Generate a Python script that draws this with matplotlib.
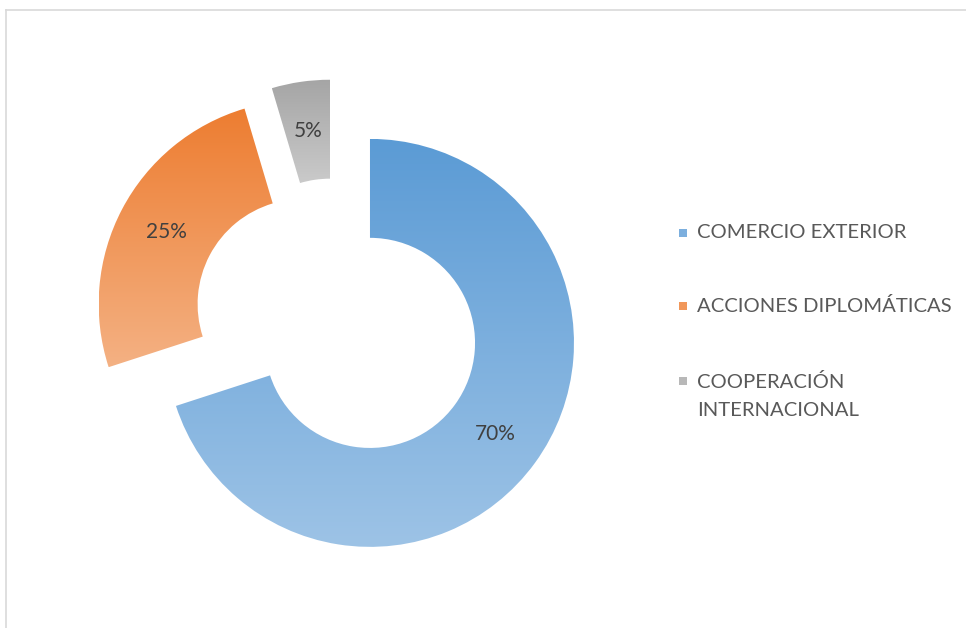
import numpy as np
import matplotlib
matplotlib.use('Agg')
import matplotlib.pyplot as plt
from matplotlib.colors import LinearSegmentedColormap, to_rgb
from matplotlib.lines import Line2D
from matplotlib.patches import Rectangle

categories = ['COMERCIO EXTERIOR', 'ACCIONES DIPLOMÁTICAS', 'COOPERACIÓN\nINTERNACIONAL']
values = [70, 25.4, 4.6]
top_colors = ['#5B9BD5', '#ED7D31', '#A5A5A5']
bottom_colors = ['#9DC3E6', '#F4B183', '#CACACA']
# where the exploded slices sit (radius units)
offsets = [(0, 0), (-0.33, 0.19), (-0.196, 0.29)]

plt.rcParams['font.family'] = ['Lato', 'DejaVu Sans']

W, H = 966, 628
fig = plt.figure(figsize=(W / 100, H / 100), dpi=100)
ax = fig.add_axes([0.0768, -0.017, 0.6124, 0.942])

wedges, texts, pcts = ax.pie(values, startangle=90, counterclock=False, radius=1,
                             wedgeprops=dict(width=0.485, linewidth=0),
                             autopct='%.0f%%', pctdistance=0.757,
                             textprops=dict(color='#404040', fontsize=15))

grad = np.linspace(0, 1, 256).reshape(-1, 1)
for i, w in enumerate(wedges):
    w.set_center(offsets[i])
    x, y = pcts[i].get_position()
    pcts[i].set_position((x + offsets[i][0], y + offsets[i][1]))
    bb = w.get_path().get_extents()
    cmap = LinearSegmentedColormap.from_list('g%d' % i, [top_colors[i], bottom_colors[i]])
    im = ax.imshow(grad, cmap=cmap, extent=(bb.x0, bb.x1, bb.y0, bb.y1),
                   origin='upper', aspect='auto', zorder=1, interpolation='bilinear')
    im.set_clip_path(w)
    w.set_facecolor('none')
    pcts[i].set_zorder(3)

ax.set_xlim(-1.45, 1.45)
ax.set_ylim(-1.45, 1.45)
ax.set_aspect('equal')
ax.axis('off')

# chart border (only top and left visible in the original crop)
fig.add_artist(Line2D([5.5 / W, 1], [1 - 9.5 / H] * 2, transform=fig.transFigure,
                      color='#D9D9D9', lw=1.2))
fig.add_artist(Line2D([5.5 / W] * 2, [0, 1 - 9.5 / H], transform=fig.transFigure,
                      color='#D9D9D9', lw=1.2))

# legend
leg_y = [233, 306, 396]
mark_y = [233, 306, 381]
for i, lab in enumerate(categories):
    c = 0.5 * (np.array(to_rgb(top_colors[i])) + np.array(to_rgb(bottom_colors[i])))
    fig.add_artist(Rectangle(((679) / W, 1 - (mark_y[i] + 4) / H), 8 / W, 8 / H,
                             transform=fig.transFigure, color=c, lw=0))
    fig.text(697 / W, 1 - leg_y[i] / H, lab, fontsize=14.6, color='#595959',
             va='center', ha='left', linespacing=1.8)

fig.savefig('out.png', dpi=100)
